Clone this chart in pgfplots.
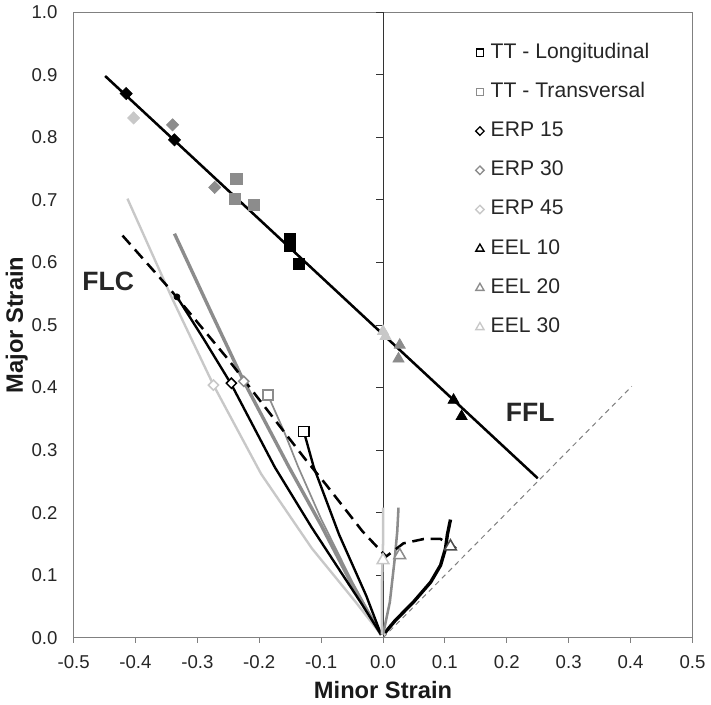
\documentclass[border=0pt]{standalone}
\usepackage{fontspec}
\setmainfont{Liberation Sans}
\usepackage{pgfplots}
\pgfplotsset{compat=1.18}
\definecolor{mgray}{RGB}{140,140,140}
\definecolor{lgray}{RGB}{200,200,200}
\definecolor{framegray}{RGB}{128,128,128}

\begin{document}
\begin{tikzpicture}
\begin{axis}[
  scale only axis, width=366pt, height=370pt,
  xmin=-0.5, xmax=0.5, ymin=0, ymax=1,
  xtick={-0.5,-0.4,-0.3,-0.2,-0.1,0,0.1,0.2,0.3,0.4,0.5},
  xticklabels={-0.5,-0.4,-0.3,-0.2,-0.1,0.0,0.1,0.2,0.3,0.4,0.5},
  ytick={0,0.1,0.2,0.3,0.4,0.5,0.6,0.7,0.8,0.9,1},
  yticklabels={0.0,0.1,0.2,0.3,0.4,0.5,0.6,0.7,0.8,0.9,1.0},
  tick align=outside, xtick pos=bottom, ytick pos=left,
  major tick length=3pt,
  ytick style={draw=none},
  xtick style={framegray, line width=0.6pt},
  axis line style={framegray, line width=0.6pt},
  ticklabel style={font=\fontsize{11}{13}\selectfont, text=black!85},
  yticklabel style={xshift=-3pt},
  xticklabel style={yshift=-4pt},
  xlabel={\bfseries Minor Strain}, ylabel={\bfseries Major Strain},
  label style={font=\fontsize{14}{16}\selectfont, text=black!90},
  xlabel style={at={(axis description cs:0.5,-0.084)}, anchor=center},
  ylabel style={at={(axis description cs:-0.092,0.5)}, anchor=center},
  legend style={at={(axis description cs:0.644,0.957)}, anchor=north west,
    draw=none, fill=none, font=\fontsize{12.5}{14}\selectfont, text=black!85,
    row sep=7.6pt, inner sep=0pt,
    nodes={inner sep=2pt, text height=9pt, text depth=2.6pt}},
  legend cell align=left,
  legend image code/.code={\path (-4pt,0pt) (4pt,0pt); \draw[#1] plot coordinates {(0pt,0pt)};},
  clip=false,
]
% legend entries (open marks)
\addlegendimage{only marks, mark=square, mark size=2.1pt, black, line width=0.8pt}
\addlegendentry{TT - Longitudinal}
\addlegendimage{only marks, mark=square, mark size=2.1pt, mgray, line width=0.8pt}
\addlegendentry{TT - Transversal}
\addlegendimage{only marks, mark=diamond, mark size=2.5pt, mark options={xscale=1.33}, black, line width=0.8pt}
\addlegendentry{ERP 15}
\addlegendimage{only marks, mark=diamond, mark size=2.5pt, mark options={xscale=1.33}, mgray, line width=0.8pt}
\addlegendentry{ERP 30}
\addlegendimage{only marks, mark=diamond, mark size=2.5pt, mark options={xscale=1.33}, lgray, line width=0.8pt}
\addlegendentry{ERP 45}
\addlegendimage{only marks, mark=triangle, mark size=2.8pt, black, line width=0.8pt}
\addlegendentry{EEL 10}
\addlegendimage{only marks, mark=triangle, mark size=2.8pt, mgray, line width=0.8pt}
\addlegendentry{EEL 20}
\addlegendimage{only marks, mark=triangle, mark size=2.8pt, lgray, line width=0.8pt}
\addlegendentry{EEL 30}

% y axis crossing at x = 0
\draw[black!80, line width=0.6pt] (axis cs:0,0) -- (axis cs:0,1);
\pgfplotsinvokeforeach{0.1,0.2,0.3,0.4,0.5,0.6,0.7,0.8,0.9,1.0}{
  \draw[black!80, line width=0.6pt] (axis cs:0,#1) -- ++(-4pt,0pt);
}

% reference line y = x
\addplot[forget plot, gray, line width=0.6pt, dash pattern=on 3pt off 2.5pt] coordinates {(0,0) (0.402,0.402)};

% strain paths
\addplot[forget plot, lgray, line width=1.4pt] coordinates {
(-0.003,0.005) (-0.044,0.057) (-0.115,0.143) (-0.197,0.262) (-0.274,0.404) (-0.341,0.543) (-0.413,0.702)};
\addplot[forget plot, mgray, line width=2pt] coordinates {
(-0.003,0.005) (-0.05,0.085) (-0.1,0.18) (-0.152,0.273) (-0.225,0.41) (-0.28,0.525) (-0.337,0.646)};
\addplot[forget plot, mgray, line width=1pt] coordinates {
(-0.003,0.005) (-0.05,0.09) (-0.1,0.19) (-0.137,0.273) (-0.16,0.33) (-0.186,0.388)};
\addplot[forget plot, black, line width=1.4pt] coordinates {
(-0.003,0.005) (-0.035,0.055) (-0.115,0.176) (-0.175,0.273) (-0.245,0.405) (-0.29,0.478) (-0.333,0.545)};
\addplot[forget plot, black, line width=1.4pt] coordinates {
(-0.003,0.005) (-0.027,0.067) (-0.071,0.165) (-0.112,0.273) (-0.128,0.33)};
\addplot[forget plot, black, line width=2pt] coordinates {
(0.003,0.008) (0.02,0.028) (0.049,0.057) (0.077,0.089) (0.093,0.116) (0.101,0.143) (0.104,0.165) (0.109,0.189)};
\addplot[forget plot, mgray, line width=1.5pt] coordinates {
(0.0,0.005) (0.011,0.057) (0.019,0.127) (0.023,0.17) (0.025,0.208)};
\addplot[forget plot, lgray, line width=1.5pt] coordinates {
(-0.002,0.005) (-0.002,0.08) (0,0.15) (0.0,0.208)};
\addplot[forget plot, only marks, mark=*, mark size=1.8pt, black] coordinates {(-0.333,0.545)};

% forming limit curve (dashed)
\addplot[forget plot, black, line width=1.5pt, dash pattern=on 7pt off 4pt] coordinates {
(-0.421,0.643) (-0.344,0.557) (-0.251,0.446) (-0.126,0.286) (-0.093,0.246) (-0.033,0.170) (0.005,0.130)
(0.033,0.151) (0.066,0.158) (0.093,0.158) (0.118,0.143)};

% fracture forming line
\addplot[forget plot, black, line width=1.5pt] coordinates {(-0.449,0.898) (0.25,0.255)};

% necking points (open marks)
\addplot[forget plot, only marks, mark=square*, mark size=3pt, black, fill=white, line width=0.9pt] coordinates {(-0.128,0.33)};
\addplot[forget plot, only marks, mark=square*, mark size=3pt, mgray, fill=white, line width=0.9pt] coordinates {(-0.186,0.388)};
\addplot[forget plot, only marks, mark=diamond*, mark size=3pt, mark options={xscale=1.33}, black, fill=white, line width=0.9pt] coordinates {(-0.245,0.407)};
\addplot[forget plot, only marks, mark=diamond*, mark size=3pt, mark options={xscale=1.33}, mgray, fill=white, line width=0.9pt] coordinates {(-0.225,0.41)};
\addplot[forget plot, only marks, mark=diamond*, mark size=3pt, mark options={xscale=1.33}, lgray, fill=white, line width=0.9pt] coordinates {(-0.274,0.404)};
\addplot[forget plot, only marks, mark=triangle*, mark size=4pt, black!70, fill=white, line width=0.9pt] coordinates {(0.109,0.146)};
\addplot[forget plot, only marks, mark=triangle*, mark size=4pt, mgray, fill=white, line width=0.9pt] coordinates {(0.027,0.132)};
\addplot[forget plot, only marks, mark=triangle*, mark size=4pt, lgray, fill=white, line width=0.9pt] coordinates {(0.0,0.124)};

% fracture points (filled marks)
\addplot[forget plot, only marks, mark=square*, mark size=3.3pt, black] coordinates {(-0.151,0.638) (-0.150,0.627) (-0.136,0.598)};
\addplot[forget plot, only marks, mark=square*, mark size=3.3pt, mgray] coordinates {(-0.237,0.734) (-0.239,0.702) (-0.209,0.692)};
\addplot[forget plot, only marks, mark=diamond*, mark size=3.6pt, mark options={xscale=1.33}, black] coordinates {(-0.415,0.870) (-0.337,0.796)};
\addplot[forget plot, only marks, mark=diamond*, mark size=3.6pt, mark options={xscale=1.33}, mgray] coordinates {(-0.340,0.820) (-0.272,0.720)};
\addplot[forget plot, only marks, mark=diamond*, mark size=3.6pt, mark options={xscale=1.33}, lgray] coordinates {(-0.403,0.831)};
\addplot[forget plot, only marks, mark=triangle*, mark size=3.8pt, black] coordinates {(0.114,0.380) (0.127,0.354)};
\addplot[forget plot, only marks, mark=triangle*, mark size=3.8pt, mgray] coordinates {(0.027,0.468) (0.025,0.446)};
\addplot[forget plot, only marks, mark=triangle*, mark size=3.8pt, lgray] coordinates {(0.0,0.49) (0.004,0.482)};

\node[font=\fontsize{15.7}{18}\selectfont\bfseries, text=black!85] at (axis cs:-0.444,0.570) {FLC};
\node[font=\fontsize{15.7}{18}\selectfont\bfseries, text=black!85] at (axis cs:0.238,0.360) {FFL};
\end{axis}
\end{tikzpicture}
\end{document}
